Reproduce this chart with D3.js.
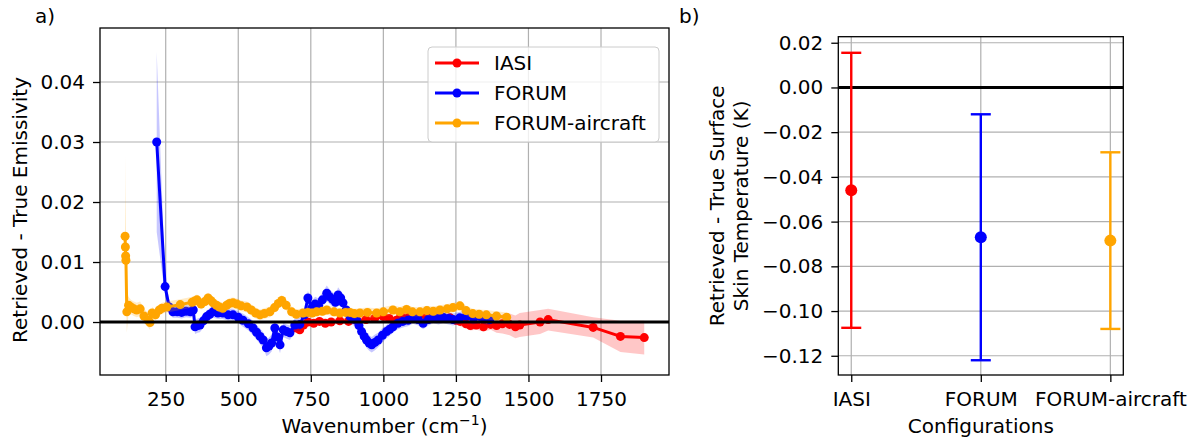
<!DOCTYPE html>
<html>
<head>
<meta charset="utf-8">
<script src="https://cdn.jsdelivr.net/npm/d3@7"></script>
<style>
  body { margin: 0; background: #fff; }
  svg { font-family: 'DejaVu Sans', sans-serif; }
</style>
</head>
<body>
<svg id="main" width="1197" height="439"></svg>
<script>
// panel a) emissivity difference per series
var iasiWn = [700, 712, 725, 740, 760, 780, 800, 820, 850, 880, 910, 940, 970, 1000, 1020, 1045, 1060, 1090, 1120, 1150, 1175, 1200, 1230, 1250, 1265, 1285, 1300, 1320, 1345, 1370, 1390, 1410, 1435, 1455, 1470, 1540, 1568, 1723, 1817, 1899]
var iasiVal = [-0.0010, -0.0013, -0.0005, 0.0000, -0.0002, 0.0001, -0.0002, 0.0000, 0.0002, 0.0001, 0.0002, 0.0004, 0.0006, 0.0009, 0.0006, 0.0003, 0.0010, 0.0010, 0.0008, 0.0009, 0.0008, 0.0006, 0.0007, 0.0003, 0.0001, -0.0003, -0.0006, -0.0005, -0.0008, -0.0004, -0.0006, -0.0003, -0.0004, -0.0008, -0.0005, 0.0000, 0.0004, -0.0009, -0.0024, -0.0026]
var iasiErr = [0.0007, 0.0007, 0.0006, 0.0005, 0.0005, 0.0005, 0.0005, 0.0005, 0.0005, 0.0005, 0.0005, 0.0005, 0.0005, 0.0005, 0.0005, 0.0005, 0.0006, 0.0006, 0.0006, 0.0006, 0.0006, 0.0007, 0.0007, 0.0008, 0.0008, 0.0008, 0.0008, 0.0008, 0.0008, 0.0009, 0.0012, 0.0016, 0.0018, 0.0019, 0.0020, 0.0020, 0.0018, 0.0017, 0.0026, 0.0028]

var forumWn = [219, 248, 262, 275, 290, 305, 320, 335, 345, 351, 360, 368, 380, 391, 402, 413, 430, 447, 465, 482, 500, 516, 535, 551, 563, 575, 586, 597, 606, 615, 626, 635, 644, 655, 667, 678, 695, 712, 728, 740, 753, 765, 777, 790, 805, 815, 825, 835, 844, 853, 861, 872, 885, 897, 908, 916, 925, 934, 942, 951, 960, 971, 982, 997, 1011, 1022, 1033, 1050, 1067, 1085, 1102, 1120, 1137, 1155, 1172, 1190, 1206, 1225, 1240, 1263, 1286, 1310, 1333, 1350, 1367]
var forumVal = [0.0300, 0.0059, 0.0025, 0.0017, 0.0017, 0.0016, 0.0018, 0.0017, 0.0020, -0.0008, -0.0006, -0.0005, 0.0002, 0.0009, 0.0013, 0.0017, 0.0015, 0.0015, 0.0012, 0.0012, 0.0008, 0.0003, -0.0003, -0.0010, -0.0017, -0.0024, -0.0030, -0.0043, -0.0040, -0.0035, -0.0010, -0.0025, -0.0038, -0.0013, -0.0016, -0.0018, -0.0005, -0.0004, 0.0012, 0.0040, 0.0023, 0.0030, 0.0027, 0.0037, 0.0048, 0.0042, 0.0038, 0.0033, 0.0045, 0.0040, 0.0032, 0.0020, 0.0009, 0.0005, 0.0003, -0.0006, -0.0016, -0.0024, -0.0030, -0.0035, -0.0038, -0.0034, -0.0030, -0.0022, -0.0016, -0.0012, -0.0008, -0.0002, 0.0001, 0.0003, 0.0007, 0.0004, -0.0002, 0.0004, 0.0008, 0.0006, 0.0008, 0.0006, 0.0004, 0.0007, 0.0010, 0.0006, 0.0009, 0.0006, 0.0004]
var forumErr = [0.0150, 0.0015, 0.0012, 0.0010, 0.0010, 0.0010, 0.0010, 0.0010, 0.0011, 0.0012, 0.0012, 0.0012, 0.0011, 0.0010, 0.0010, 0.0010, 0.0010, 0.0010, 0.0010, 0.0010, 0.0010, 0.0011, 0.0011, 0.0012, 0.0012, 0.0013, 0.0013, 0.0014, 0.0014, 0.0014, 0.0013, 0.0013, 0.0014, 0.0012, 0.0012, 0.0012, 0.0011, 0.0011, 0.0012, 0.0012, 0.0012, 0.0012, 0.0012, 0.0012, 0.0013, 0.0012, 0.0012, 0.0012, 0.0013, 0.0012, 0.0012, 0.0011, 0.0011, 0.0011, 0.0011, 0.0011, 0.0012, 0.0012, 0.0013, 0.0013, 0.0013, 0.0013, 0.0012, 0.0012, 0.0011, 0.0011, 0.0010, 0.0010, 0.0010, 0.0010, 0.0010, 0.0010, 0.0010, 0.0010, 0.0010, 0.0010, 0.0010, 0.0010, 0.0010, 0.0010, 0.0010, 0.0010, 0.0010, 0.0010, 0.0010]

var aircraftWn = [110, 111, 112, 113, 116, 122, 130, 140, 150, 162, 175, 190, 196, 203, 215, 228, 237, 254, 300, 341, 350, 358, 372, 385, 396, 405, 413, 425, 435, 447, 460, 470, 482, 495, 510, 530, 545, 560, 575, 590, 609, 625, 638, 650, 665, 684, 700, 723, 740, 755, 770, 790, 805, 830, 850, 870, 885, 900, 919, 945, 977, 1000, 1033, 1057, 1080, 1100, 1126, 1150, 1172, 1195, 1220, 1240, 1264, 1285, 1308, 1330, 1355, 1390, 1425]
var aircraftVal = [0.0143, 0.0125, 0.0110, 0.0103, 0.0017, 0.0028, 0.0025, 0.0022, 0.0020, 0.0022, 0.0010, 0.0003, -0.0001, 0.0015, 0.0012, 0.0020, 0.0023, 0.0025, 0.0029, 0.0033, 0.0035, 0.0037, 0.0030, 0.0034, 0.0040, 0.0036, 0.0032, 0.0028, 0.0025, 0.0023, 0.0028, 0.0031, 0.0032, 0.0030, 0.0027, 0.0025, 0.0020, 0.0015, 0.0012, 0.0014, 0.0017, 0.0024, 0.0031, 0.0036, 0.0028, 0.0017, 0.0013, 0.0015, 0.0016, 0.0015, 0.0017, 0.0018, 0.0020, 0.0017, 0.0015, 0.0016, 0.0016, 0.0014, 0.0015, 0.0016, 0.0015, 0.0017, 0.0020, 0.0017, 0.0021, 0.0017, 0.0017, 0.0019, 0.0018, 0.0020, 0.0022, 0.0024, 0.0027, 0.0019, 0.0014, 0.0013, 0.0012, 0.0010, 0.0008]
var aircraftErr = [0.0135, 0.0100, 0.0080, 0.0060, 0.0035, 0.0014, 0.0012, 0.0012, 0.0012, 0.0012, 0.0012, 0.0012, 0.0012, 0.0010, 0.0009, 0.0009, 0.0009, 0.0009, 0.0009, 0.0009, 0.0009, 0.0009, 0.0009, 0.0009, 0.0009, 0.0009, 0.0009, 0.0009, 0.0009, 0.0009, 0.0009, 0.0009, 0.0009, 0.0009, 0.0009, 0.0009, 0.0009, 0.0009, 0.0009, 0.0009, 0.0009, 0.0009, 0.0009, 0.0009, 0.0009, 0.0009, 0.0008, 0.0008, 0.0008, 0.0008, 0.0008, 0.0008, 0.0008, 0.0008, 0.0008, 0.0008, 0.0008, 0.0008, 0.0008, 0.0008, 0.0008, 0.0008, 0.0008, 0.0008, 0.0008, 0.0008, 0.0008, 0.0008, 0.0008, 0.0008, 0.0008, 0.0008, 0.0008, 0.0008, 0.0008, 0.0008, 0.0008, 0.0008, 0.0008]

var wnTicks = [250, 500, 750, 1000, 1250, 1500, 1750]
var emisTicks = [0, 0.01, 0.02, 0.03, 0.04]

// panel b) skin temperature
var configs = ['IASI', 'FORUM', 'FORUM-aircraft']
var tskinMean = [-0.046, -0.067, -0.0685]
var tskinErr = [0.0615, 0.055, 0.0395]
var tskinTicks = [-0.12, -0.10, -0.08, -0.06, -0.04, -0.02, 0.00, 0.02]

var colors = ['#ff0000', '#0000ff', '#ffa500']

var config = {
  font: 20,
  grid: '#b0b0b0',
  a: { left: 100, right: 669, top: 28, bottom: 375 },
  b: { left: 838.3, right: 1123.3, top: 36.7, bottom: 375 }
}

var svg = d3.select('#main')

function series (wn, val, err) {
  return wn.map((w, i) => ({ x: w, y: val[i], e: err[i] }))
}

function styleAxis (g) {
  g.select('.domain').remove()
  g.selectAll('.tick line').attr('stroke', '#000').attr('stroke-width', 1.3)
  g.selectAll('.tick text')
      .attr('font-family', 'DejaVu Sans')
      .attr('font-size', config.font)
      .attr('fill', '#000')
}

function renderPanelA () {
  var p = config.a
  var x = d3.scaleLinear().domain([23.6, 1984.3]).range([p.left, p.right])
  var y = d3.scaleLinear().domain([-0.00883, 0.049]).range([p.bottom, p.top])

  svg.append('defs').append('clipPath')
      .attr('id', 'clip-a')
    .append('rect')
      .attr('x', p.left).attr('y', p.top)
      .attr('width', p.right - p.left).attr('height', p.bottom - p.top)

  var grid = svg.append('g').attr('stroke', config.grid).attr('stroke-width', 1.2)
  grid.selectAll('line.v').data(wnTicks).enter().append('line')
      .attr('x1', d => x(d)).attr('x2', d => x(d))
      .attr('y1', p.top).attr('y2', p.bottom)
  grid.selectAll('line.h').data(emisTicks).enter().append('line')
      .attr('y1', d => y(d)).attr('y2', d => y(d))
      .attr('x1', p.left).attr('x2', p.right)

  var plot = svg.append('g').attr('clip-path', 'url(#clip-a)')

  var area = d3.area()
      .x(d => x(d.x))
      .y0(d => y(d.y - d.e))
      .y1(d => y(d.y + d.e))
  var line = d3.line()
      .x(d => x(d.x))
      .y(d => y(d.y))

  var all = [
    series(iasiWn, iasiVal, iasiErr),
    series(forumWn, forumVal, forumErr),
    series(aircraftWn, aircraftVal, aircraftErr)
  ]

  all.forEach(function (data, i) {
    plot.append('path')
        .attr('d', area(data))
        .attr('fill', colors[i])
        .attr('fill-opacity', 0.22)
    plot.append('path')
        .attr('d', line(data))
        .attr('fill', 'none')
        .attr('stroke', colors[i])
        .attr('stroke-width', 3)
        .attr('stroke-linejoin', 'round')
    plot.selectAll(null).data(data).enter().append('circle')
        .attr('cx', d => x(d.x))
        .attr('cy', d => y(d.y))
        .attr('r', 4.5)
        .attr('fill', colors[i])
  })

  plot.append('line')
      .attr('x1', p.left).attr('x2', p.right)
      .attr('y1', y(0)).attr('y2', y(0))
      .attr('stroke', '#000')
      .attr('stroke-width', 3)

  svg.append('g')
      .attr('transform', `translate(0, ${p.bottom})`)
      .call(d3.axisBottom(x).tickValues(wnTicks).tickSize(7).tickPadding(10).tickFormat(d3.format('d')))
      .call(styleAxis)

  svg.append('g')
      .attr('transform', `translate(${p.left}, 0)`)
      .call(d3.axisLeft(y).tickValues(emisTicks).tickSize(7).tickPadding(8).tickFormat(d3.format('.2f')))
      .call(styleAxis)

  // legend
  var lg = svg.append('g')
  lg.append('rect')
      .attr('x', 428).attr('y', 47)
      .attr('width', 231).attr('height', 95)
      .attr('rx', 4)
      .attr('fill', '#fff').attr('fill-opacity', 0.8)
      .attr('stroke', '#cccccc')
  configs.forEach(function (name, i) {
    var cy = 63 + i * 30
    lg.append('line')
        .attr('x1', 435).attr('x2', 479)
        .attr('y1', cy).attr('y2', cy)
        .attr('stroke', colors[i]).attr('stroke-width', 3)
    lg.append('circle')
        .attr('cx', 457).attr('cy', cy).attr('r', 4.5)
        .attr('fill', colors[i])
    lg.append('text')
        .attr('x', 494).attr('y', cy + 7)
        .attr('font-size', config.font)
        .text(name)
  })

  svg.append('rect')
      .attr('x', p.left).attr('y', p.top)
      .attr('width', p.right - p.left).attr('height', p.bottom - p.top)
      .attr('fill', 'none').attr('stroke', '#000').attr('stroke-width', 1.3)

  var xl = svg.append('text')
      .attr('x', (p.left + p.right) / 2).attr('y', 433)
      .attr('text-anchor', 'middle')
      .attr('font-size', config.font)
  xl.append('tspan').text('Wavenumber (cm')
  xl.append('tspan').attr('dy', -8).attr('font-size', 14).text('\u22121')
  xl.append('tspan').attr('dy', 8).text(')')

  svg.append('text')
      .attr('transform', 'translate(27, 210) rotate(-90)')
      .attr('text-anchor', 'middle')
      .attr('font-size', config.font)
      .text('Retrieved - True Emissivity')

  svg.append('text')
      .attr('x', 35).attr('y', 23)
      .attr('font-size', config.font)
      .text('a)')
}

function renderPanelB () {
  var p = config.b
  var x = d3.scaleLinear().domain([-0.1, 2.1]).range([p.left, p.right])
  var y = d3.scaleLinear().domain([-0.1286, 0.0227]).range([p.bottom, p.top])
  var idx = configs.map((c, i) => i)

  var grid = svg.append('g').attr('stroke', config.grid).attr('stroke-width', 1.2)
  grid.selectAll('line.v').data(idx).enter().append('line')
      .attr('x1', d => x(d)).attr('x2', d => x(d))
      .attr('y1', p.top).attr('y2', p.bottom)
  grid.selectAll('line.h').data(tskinTicks).enter().append('line')
      .attr('y1', d => y(d)).attr('y2', d => y(d))
      .attr('x1', p.left).attr('x2', p.right)

  svg.append('line')
      .attr('x1', p.left).attr('x2', p.right)
      .attr('y1', y(0)).attr('y2', y(0))
      .attr('stroke', '#000')
      .attr('stroke-width', 3)

  var bars = svg.selectAll('g.err')
    .data(idx)
    .enter()
    .append('g')
    .attr('class', 'err')
    .attr('stroke', d => colors[d])
    .attr('stroke-width', 2.4)

  bars.append('line')
      .attr('x1', d => x(d)).attr('x2', d => x(d))
      .attr('y1', d => y(tskinMean[d] - tskinErr[d]))
      .attr('y2', d => y(tskinMean[d] + tskinErr[d]))
  bars.append('line')
      .attr('x1', d => x(d) - 10).attr('x2', d => x(d) + 10)
      .attr('y1', d => y(tskinMean[d] - tskinErr[d]))
      .attr('y2', d => y(tskinMean[d] - tskinErr[d]))
  bars.append('line')
      .attr('x1', d => x(d) - 10).attr('x2', d => x(d) + 10)
      .attr('y1', d => y(tskinMean[d] + tskinErr[d]))
      .attr('y2', d => y(tskinMean[d] + tskinErr[d]))
  bars.append('circle')
      .attr('cx', d => x(d))
      .attr('cy', d => y(tskinMean[d]))
      .attr('r', 6)
      .attr('stroke', 'none')
      .attr('fill', d => colors[d])

  svg.append('g')
      .attr('transform', `translate(0, ${p.bottom})`)
      .call(d3.axisBottom(x).tickValues(idx).tickSize(7).tickPadding(10).tickFormat(d => configs[d]))
      .call(styleAxis)

  svg.append('g')
      .attr('transform', `translate(${p.left}, 0)`)
      .call(d3.axisLeft(y).tickValues(tskinTicks).tickSize(7).tickPadding(8).tickFormat(d3.format('.2f')))
      .call(styleAxis)

  svg.append('rect')
      .attr('x', p.left).attr('y', p.top)
      .attr('width', p.right - p.left).attr('height', p.bottom - p.top)
      .attr('fill', 'none').attr('stroke', '#000').attr('stroke-width', 1.3)

  svg.append('text')
      .attr('x', (p.left + p.right) / 2).attr('y', 433)
      .attr('text-anchor', 'middle')
      .attr('font-size', config.font)
      .text('Configurations')

  var yl = svg.append('text')
      .attr('transform', `translate(724, ${(p.top + p.bottom) / 2}) rotate(-90)`)
      .attr('text-anchor', 'middle')
      .attr('font-size', config.font)
  yl.append('tspan').attr('x', 0).text('Retrieved - True Surface')
  yl.append('tspan').attr('x', 0).attr('dy', 24).text('Skin Temperature (K)')

  svg.append('text')
      .attr('x', 679).attr('y', 23)
      .attr('font-size', config.font)
      .text('b)')
}

renderPanelA()
renderPanelB()
</script>
</body>
</html>
